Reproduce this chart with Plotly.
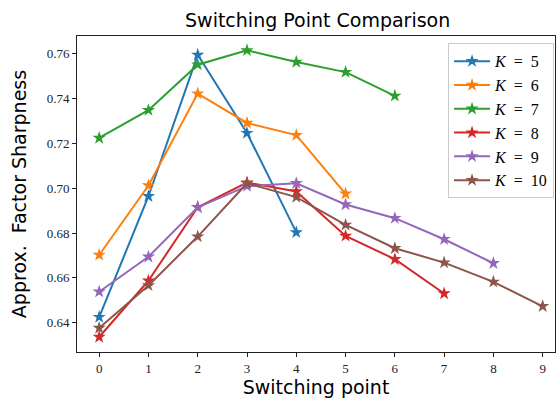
import plotly.graph_objects as go

# Approximate factor sharpness per switching point, one series per K
k_values = [5, 6, 7, 8, 9, 10]
sharp_k5 = [0.6425, 0.6964, 0.7595, 0.7246, 0.6803]
sharp_k6 = [0.6702, 0.7012, 0.7422, 0.7291, 0.7237, 0.6975]
sharp_k7 = [0.7224, 0.7348, 0.7551, 0.7615, 0.7563, 0.7518, 0.7412]
sharp_k8 = [0.6336, 0.6587, 0.6915, 0.7025, 0.6985, 0.6787, 0.6683, 0.6530]
sharp_k9 = [0.6538, 0.6694, 0.6915, 0.7009, 0.7022, 0.6927, 0.6866, 0.6772, 0.6665]
sharp_k10 = [0.6376, 0.6566, 0.6784, 0.7022, 0.6960, 0.6836, 0.6732, 0.6668, 0.6582, 0.6473]
x_ticks = list(range(10))
y_ticks = [0.64, 0.66, 0.68, 0.70, 0.72, 0.74, 0.76]

series = [sharp_k5, sharp_k6, sharp_k7, sharp_k8, sharp_k9, sharp_k10]
colors = ["#1f77b4", "#ff7f0e", "#2ca02c", "#d62728", "#9467bd", "#8c564b"]

SERIF = "Liberation Serif, DejaVu Serif, serif"
SANS = "DejaVu Sans, sans-serif"

fig = go.Figure()
for k, ys, c in zip(k_values, series, colors):
    fig.add_trace(go.Scatter(
        x=list(range(len(ys))),
        y=ys,
        mode="lines+markers",
        name=f"<i>K</i>  =  {k}",
        line=dict(color=c, width=2),
        marker=dict(symbol="star", size=10, color=c, line=dict(width=0)),
    ))

fig.update_layout(
    width=556,
    height=403,
    margin=dict(l=77, r=1, t=36, b=51),
    paper_bgcolor="white",
    plot_bgcolor="white",
    title=dict(
        text="Switching Point Comparison",
        font=dict(family=SANS, size=19, color="black"),
        x=0.5713, xanchor="center", y=0.932, yanchor="bottom",
    ),
    showlegend=True,
    legend=dict(
        x=0.998, y=0.977, xanchor="right", yanchor="top",
        bgcolor="rgba(255,255,255,0.8)",
        bordercolor="#cccccc", borderwidth=1,
        font=dict(family=SERIF, size=16, color="black"),
        tracegroupgap=0, itemwidth=36,
    ),
)

axis_common = dict(
    showgrid=False, zeroline=False,
    showline=True, linecolor="#222222", linewidth=1, mirror=True,
    ticks="outside", ticklen=4, tickwidth=1, tickcolor="#222222",
    tickfont=dict(family=SERIF, size=13, color="#222222"),
)

fig.update_xaxes(
    range=[-0.45, 9.25],
    tickvals=x_ticks,
    title=dict(text="Switching point", font=dict(family=SANS, size=19, color="black"), standoff=4),
    **axis_common,
)
fig.update_yaxes(
    range=[0.6269, 0.7679],
    tickvals=y_ticks,
    tickformat=".2f",
    title=dict(text="Approx.  Factor Sharpness", font=dict(family=SANS, size=19, color="black"), standoff=15),
    **axis_common,
)

fig.write_html("out.html")
